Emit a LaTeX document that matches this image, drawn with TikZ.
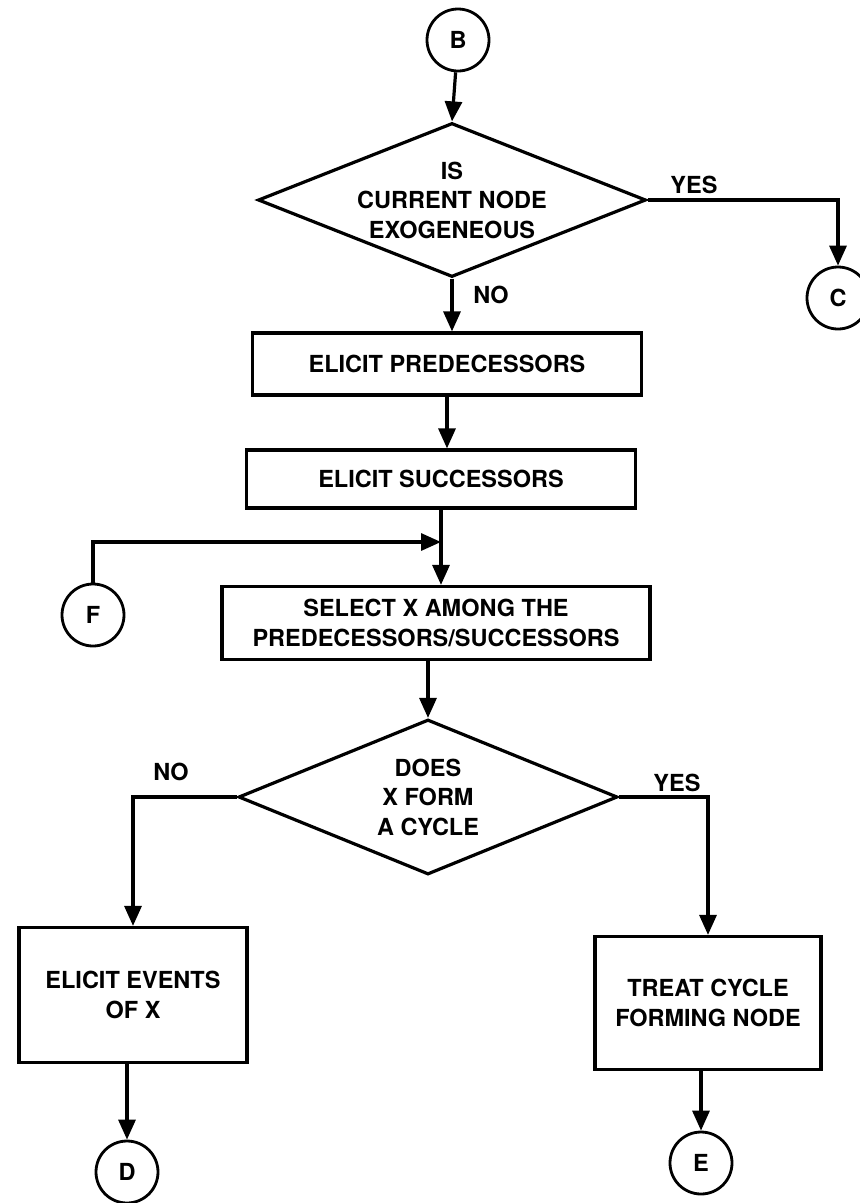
\documentclass[tikz,border=0pt]{standalone}
\usepackage{fontspec}
\setmainfont{TeX Gyre Heros}
\usetikzlibrary{shapes.geometric,arrows.meta}
\begin{document}
\begin{tikzpicture}[x=1pt,y=-1pt,
  every node/.style={font=\fontsize{23.5}{29.5}\selectfont\bfseries, text=black},
  proc/.style={draw, line width=3.2pt, inner sep=0pt, align=center},
  decision/.style={draw, diamond, line width=3.2pt, inner sep=0pt, align=center},
  connector/.style={draw, circle, line width=2.8pt, minimum size=62pt, inner sep=0pt},
  flow/.style={line width=3.2pt, -{Triangle[length=20pt,width=17pt]}},
  tag/.style={inner sep=0pt}]
\useasboundingbox (0,0) rectangle (860,1203);
\fill[white] (0,0) rectangle (860,1203);

% entry connector and first test
\node[connector] (B) at (458,40) {B};
\node[decision, minimum width=388pt, minimum height=154pt, aspect=2.52] (D1) at (452,200)
  {IS\\CURRENT NODE\\EXOGENEOUS};
\node[connector] (C) at (838,298) {C};
\node[tag] (yes1) at (694,185) {YES};
\node[tag] (no1) at (491,295) {NO};

% elicitation steps
\node[proc, minimum width=389pt, minimum height=62pt] (P1) at (447,364) {ELICIT PREDECESSORS};
\node[proc, minimum width=389pt, minimum height=58pt] (P2) at (441,479) {ELICIT SUCCESSORS};
\node[proc, minimum width=428pt, minimum height=73pt] (P3) at (436,623)
  {SELECT X AMONG THE\\PREDECESSORS/SUCCESSORS};
\node[connector] (F) at (93,615) {F};

% cycle test
\node[decision, minimum width=379pt, minimum height=155pt, aspect=2.45] (D2) at (428,797)
  {DOES\\X FORM\\A CYCLE};
\node[tag] (no2) at (171,772) {NO};
\node[tag] (yes2) at (677,783) {YES};

% branches
\node[proc, minimum width=228pt, minimum height=135pt] (P4) at (133,995) {ELICIT EVENTS\\OF X};
\node[proc, minimum width=226pt, minimum height=133pt] (P5) at (708,1003) {TREAT CYCLE\\FORMING NODE};
\node[connector] (D) at (127,1172) {D};
\node[connector] (E) at (701,1163) {E};

% connectors
\coordinate (Fy) at (0,542);
\coordinate (J) at (P2.south |- Fy);
\draw[flow] (B) -- (D1.north);
\draw[flow] (D1.east) -| (C.north);
\draw[flow] (D1.south) -- (D1.south |- P1.north);
\draw[flow] (P1.south) -- (P1.south |- P2.north);
\draw[flow] (P2.south) -- (P2.south |- P3.north);
\draw[flow] (F.north) |- (J);
\draw[flow] (D2.north |- P3.south) -- (D2.north);
\draw[flow] (D2.west) -| (P4.north);
\draw[flow] (D2.east) -| (P5.north);
\draw[flow] (P4.south -| D.north) -- (D.north);
\draw[flow] (P5.south -| E.north) -- (E.north);
\end{tikzpicture}
\end{document}
